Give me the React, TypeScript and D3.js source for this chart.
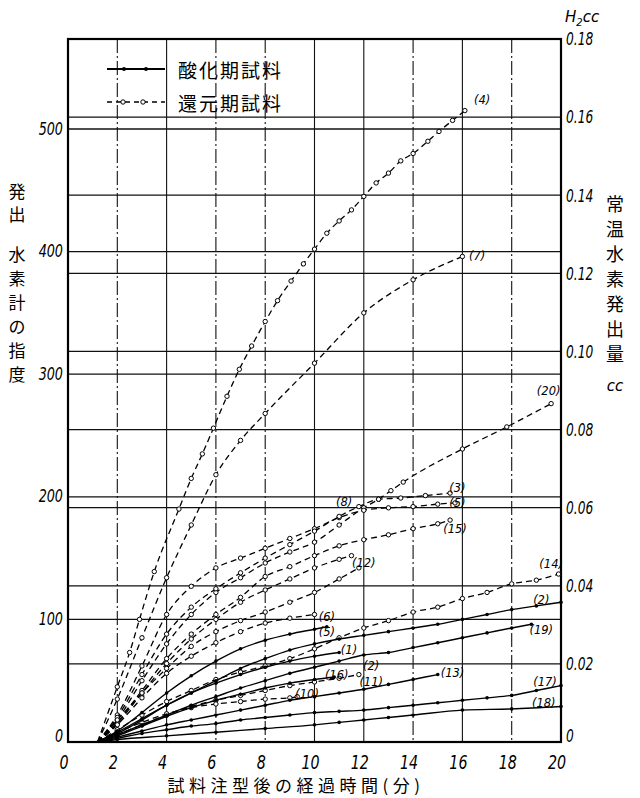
import React from 'react'
import * as d3 from 'd3'

// x: minutes after casting, v: hydrogen meter reading (left axis)
const timeTicks = [0, 2, 4, 6, 8, 10, 12, 14, 16, 18, 20]
const leftTicks = [0, 100, 200, 300, 400, 500]
const rightTicks = [0, 0.02, 0.04, 0.06, 0.08, 0.1, 0.12, 0.14, 0.16, 0.18]
const rightLabels = ['0', '0.02', '0.04', '0.06', '0.08', '0.10', '0.12', '0.14', '0.16', '0.18']

// reduction-period samples (dashed, open circles)
const s4 = [[1.2, 0], [2, 45], [2.5, 73], [2.9, 100], [3.5, 139], [4.5, 190], [5, 215], [5.45, 235], [5.9, 256], [6.45, 282], [6.95, 304], [7.45, 323], [8, 343], [8.5, 360], [9.05, 376], [9.55, 390], [10, 402], [10.5, 415], [11, 425], [11.5, 434], [12, 445], [12.5, 456], [13, 464], [13.5, 474], [14, 480], [14.6, 490], [15.05, 498], [15.6, 507], [16.1, 515]]
const s7 = [[1.2, 0], [2, 35], [3, 85], [4, 134], [5, 177], [6, 218], [7, 246], [8, 268], [10, 309], [12, 350], [14, 377], [16, 396]]
const s20 = [[1.2, 0], [2, 18], [3, 50], [4, 80], [5, 104], [6, 122], [7, 134], [8, 146], [9, 155], [10, 163], [11, 177], [12, 191], [12.6, 198], [13.1, 205], [13.6, 212], [16, 239], [17.8, 257], [19.6, 276]]
const s5u = [[1.2, 0], [2, 22], [3, 62], [4, 104], [5, 127], [6, 142], [7, 150], [8, 158], [9, 166], [10, 174], [11, 183], [12, 189], [13, 191], [14, 192], [15, 194], [15.7, 195]]
const s3 = [[1.2, 0], [2, 20], [3, 55], [4, 88], [5, 110], [6, 125], [7, 138], [8, 150], [9, 161], [10, 172], [11, 184], [11.8, 192], [12.6, 198], [13.5, 199], [14.5, 201], [15.5, 203]]
const s15 = [[1.2, 0], [2, 16], [3, 42], [4, 68], [5, 88], [6, 104], [7, 118], [8, 135], [9, 143], [10, 152], [11, 160], [12, 165], [13, 169], [14, 174], [15, 178], [15.5, 181]]
const sC = [[1.2, 0], [2, 15], [3, 40], [4, 64], [5, 84], [6, 100], [7, 114], [8, 124], [9, 133], [10, 142], [11, 149], [11.5, 152]]
const s12 = [[1.2, 0], [2, 18], [3, 40], [4, 60], [5, 78], [6, 90], [7, 99], [8, 106], [9, 114], [10, 122], [11, 133], [11.8, 142]]
const s14 = [[1.2, 0], [2, 10], [3, 22], [4, 33], [5, 42], [6, 51], [7, 57], [8, 62], [9, 68], [10, 76], [11, 85], [12, 93], [13, 99], [14, 106], [15, 110], [16, 117], [17, 122], [18, 129], [19, 132], [19.9, 137]]
const s6 = [[1.2, 0], [2, 14], [3, 36], [4, 56], [5, 70], [6, 81], [7, 90], [8, 97], [9, 101], [10, 104]]
const s11 = [[1.2, 0], [2, 6], [3, 14], [4, 22], [5, 29], [6, 34], [7, 38], [8, 42], [9, 46], [10, 49], [11, 52], [11.8, 55]]
const s10 = [[1.2, 0], [2, 8], [3, 16], [4, 23], [5, 28], [6, 31], [7, 33], [8, 35], [9, 36], [9.3, 37]]

// oxidation-period samples (solid, filled dots)
const o2 = [[1.2, 0], [2, 8], [3, 19], [4, 30], [5, 40], [6, 50], [7, 60], [8, 68], [9, 75], [10, 80], [11, 84], [12, 87], [13, 90], [14, 93], [15, 96], [16, 100], [17, 104], [18, 108], [19, 111], [20, 114]]
const o19 = [[1.2, 0], [2, 6], [3, 14], [4, 22], [5, 30], [6, 37], [7, 44], [8, 50], [9, 56], [10, 61], [11, 66], [12, 71], [13, 73], [14, 77], [15, 81], [16, 85], [17, 89], [18, 93], [18.8, 96]]
const o5 = [[1.2, 0], [2, 9], [3, 24], [4, 40], [5, 54], [6, 66], [7, 76], [8, 83], [9, 88], [10, 92], [10.5, 94]]
const o1 = [[1.2, 0], [2, 7], [3, 18], [4, 30], [5, 40], [6, 48], [7, 55], [8, 61], [9, 66], [10, 70], [11, 73]]
const o16 = [[1.2, 0], [2, 5], [3, 13], [4, 21], [5, 28], [6, 34], [7, 39], [8, 44], [9, 48], [10, 51], [10.8, 53]]
const o13 = [[1.2, 0], [2, 4], [3, 9], [4, 14], [5, 18], [6, 22], [7, 26], [8, 30], [9, 34], [10, 37], [11, 40], [12, 43], [13, 47], [14, 51], [15, 55]]
const o17 = [[1.2, 0], [2, 3], [3, 7], [4, 10], [5, 13], [6, 15], [7, 18], [8, 20], [9, 22], [10, 24], [11, 25], [12, 26], [13, 28], [14, 30], [15, 32], [16, 34], [17, 36], [18, 38], [19, 42], [20, 46]]
const o18 = [[1.2, 0], [2, 2], [4, 5], [6, 8], [8, 11], [10, 14], [11, 16], [12, 18], [13, 20], [14, 22], [16, 26], [18, 27], [20, 29]]

const reduction = [s4, s7, s20, s5u, s3, s15, sC, s12, s14, s6, s11, s10]
const oxidation = [o2, o19, o5, o1, o16, o13, o17, o18]

const curveLabels: [string, number, number][] = [
  ['(4)', 16.8, 524], ['(7)', 16.6, 396], ['(20)', 19.5, 286], ['(3)', 15.8, 207], ['(5)', 15.8, 195],
  ['(15)', 15.7, 174], ['(8)', 11.2, 196], ['(12)', 12.0, 146], ['(14)', 19.6, 145], ['(2)', 19.2, 116],
  ['(19)', 19.2, 91], ['(6)', 10.5, 102], ['(5)', 10.5, 90], ['(1)', 11.4, 75], ['(16)', 10.9, 55],
  ['(2)', 12.3, 62], ['(11)', 12.3, 49], ['(10)', 9.7, 39], ['(13)', 15.6, 56], ['(17)', 19.35, 49], ['(18)', 19.3, 32],
]

const leftTitle1 = ['発', '出']
const leftTitle2 = ['水', '素', '計', 'の', '指', '度']
const rightTitle = ['常', '温', '水', '素', '発', '出', '量']

const W = 640
const H = 798
const L = 68, R = 561, T = 39, B = 742
const cjk = '"Noto Sans CJK JP", sans-serif'
const num = '"DejaVu Sans", sans-serif'

export default function App() {
  const x = d3.scaleLinear().domain([0, 20]).range([L, R])
  const y = d3.scaleLinear().domain([0, 573.4]).range([B, T])
  const y2 = d3.scaleLinear().domain([0, 0.18]).range([B, T])
  const line = d3.line<number[]>().x(d => x(d[0])).y(d => y(d[1])).curve(d3.curveMonotoneX)

  const dashGrid = new Set([2, 6, 8, 14, 18])
  const squeeze = (px: number, k: number) => `translate(${px},0) scale(${k},1) translate(${-px},0)`

  return (
    <svg width={W} height={H} style={{ display: 'block', position: 'absolute', left: 0, top: 0, background: '#fff' }}>
      <rect width={W} height={H} fill="#fff" />
      {/* vertical grid */}
      {timeTicks.slice(1, -1).map(t => (
        <line key={'vx' + t} x1={x(t)} x2={x(t)} y1={T} y2={B} stroke="#111" strokeWidth={1.1}
          strokeDasharray={dashGrid.has(t) ? '14,3,2,3' : undefined} />
      ))}
      {/* horizontal grid, left scale */}
      {leftTicks.slice(1).map(v => (
        <line key={'hl' + v} x1={L} x2={R} y1={y(v)} y2={y(v)} stroke="#111" strokeWidth={1.3} />
      ))}
      {/* horizontal grid, right scale */}
      {rightTicks.slice(1, -1).map(v => (
        <line key={'hr' + v} x1={L} x2={R} y1={y2(v)} y2={y2(v)} stroke="#111" strokeWidth={1.3} />
      ))}
      {/* frame */}
      <rect x={L} y={T} width={R - L} height={B - T} fill="none" stroke="#000" strokeWidth={2.2} />

      {/* curves */}
      {reduction.map((s, i) => (
        <g key={'r' + i}>
          <path d={line(s) || ''} fill="none" stroke="#000" strokeWidth={1.3} strokeDasharray="6,4" />
          {s.slice(1).map((p, j) => (
            <circle key={j} cx={x(p[0])} cy={y(p[1])} r={2.2} fill="#fff" stroke="#000" strokeWidth={1} />
          ))}
        </g>
      ))}
      {oxidation.map((s, i) => (
        <g key={'o' + i}>
          <path d={line(s) || ''} fill="none" stroke="#000" strokeWidth={1.4} />
          {s.slice(1).map((p, j) => (
            <circle key={j} cx={x(p[0])} cy={y(p[1])} r={1.8} fill="#000" />
          ))}
        </g>
      ))}

      {/* curve labels */}
      {curveLabels.map(([t, cx, cv], i) => (
        <text key={'cl' + i} x={x(cx)} y={y(cv)} fontSize={11.5} fontStyle="italic" fontFamily={num}
          textAnchor="middle" dominantBaseline="central">{t}</text>
      ))}

      {/* legend */}
      <line x1={107} x2={165} y1={69} y2={69} stroke="#000" strokeWidth={1.8} />
      <circle cx={124} cy={69} r={2} fill="#000" />
      <circle cx={146} cy={69} r={2} fill="#000" />
      <text x={178} y={69} fontSize={19} fontFamily={cjk} letterSpacing={2} dominantBaseline="central">酸化期試料</text>
      <line x1={107} x2={165} y1={102} y2={102} stroke="#000" strokeWidth={1.3} strokeDasharray="5,4" />
      <circle cx={123} cy={102} r={2.2} fill="#fff" stroke="#000" />
      <circle cx={143} cy={102} r={2.2} fill="#fff" stroke="#000" />
      <text x={178} y={102} fontSize={19} fontFamily={cjk} letterSpacing={2} dominantBaseline="central">還元期試料</text>

      {/* left axis labels */}
      {leftTicks.map(v => (
        <text key={'ll' + v} x={L - 5} y={y(v) - (v === 0 ? 6 : 0)} fontSize={17} fontStyle="italic" fontFamily={num}
          textAnchor="end" dominantBaseline="central" transform={squeeze(L - 5, 0.75)}>{v}</text>
      ))}
      {/* right axis labels */}
      {rightTicks.map((v, i) => (
        <text key={'rl' + v} x={R + 5} y={y2(v) + (i === 0 ? -6 : 0)} fontSize={17} fontStyle="italic" fontFamily={num}
          dominantBaseline="central" transform={squeeze(R + 5, 0.72)}>{rightLabels[i]}</text>
      ))}
      <text x={565} y={22} fontSize={15} fontStyle="italic" fontFamily={num}>
        H<tspan fontSize={10} dy={4}>2</tspan><tspan dy={-4}>cc</tspan>
      </text>

      {/* x axis labels */}
      {timeTicks.map(t => (
        <text key={'xl' + t} x={x(t) - 4} y={762} fontSize={19} fontStyle="italic" fontFamily={num}
          textAnchor="middle" dominantBaseline="central" transform={squeeze(x(t) - 4, 0.75)}>{t}</text>
      ))}
      <text x={296} y={784} fontSize={17} fontFamily={cjk} textAnchor="middle" dominantBaseline="central" letterSpacing={4.5}>試料注型後の経過時間(分)</text>

      {/* axis titles */}
      {leftTitle1.map((c, i) => (
        <text key={'lt1' + i} x={17} y={190 + i * 23} fontSize={17} fontFamily={cjk} textAnchor="middle" dominantBaseline="central">{c}</text>
      ))}
      {leftTitle2.map((c, i) => (
        <text key={'lt2' + i} x={17} y={253 + i * 24} fontSize={17} fontFamily={cjk} textAnchor="middle" dominantBaseline="central">{c}</text>
      ))}
      {rightTitle.map((c, i) => (
        <text key={'rt' + i} x={615} y={203 + i * 25} fontSize={18} fontFamily={cjk} textAnchor="middle" dominantBaseline="central">{c}</text>
      ))}
      <text x={615} y={386} fontSize={15} fontStyle="italic" fontFamily={num} textAnchor="middle" dominantBaseline="central">cc</text>
    </svg>
  )
}
